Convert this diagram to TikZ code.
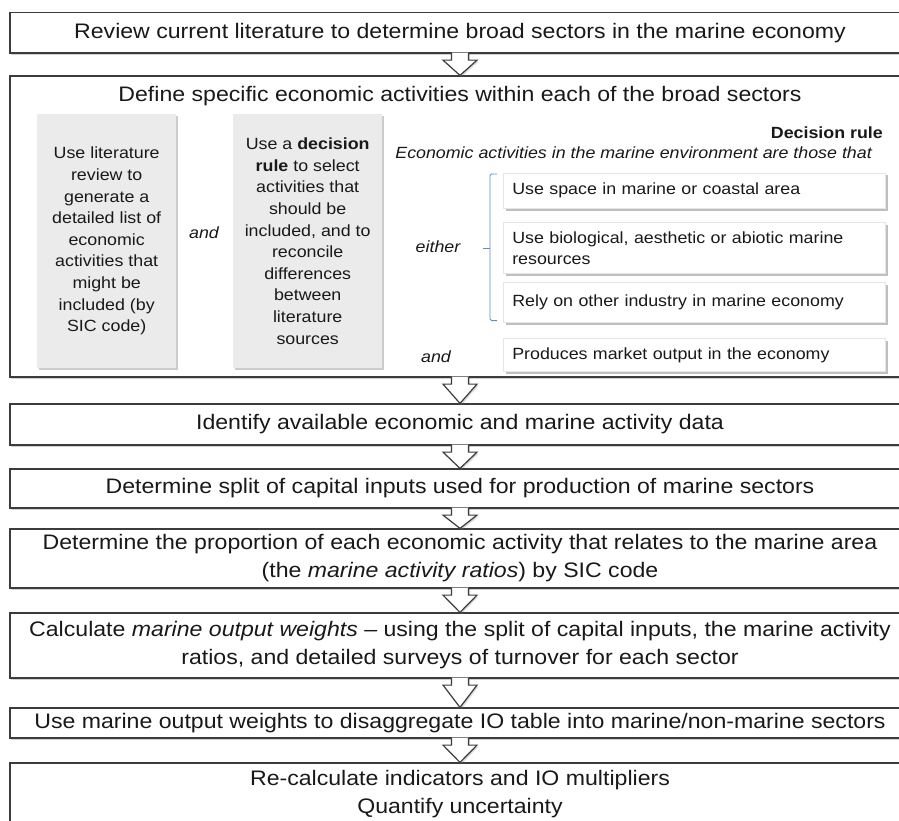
\documentclass[tikz,border=0pt]{standalone}
\usepackage{fontspec}
\setmainfont{Liberation Sans}[FakeStretch=1.1]
\usetikzlibrary{shadows,calc}
\definecolor{edgecol}{HTML}{3C3C3C}
\definecolor{greyfill}{HTML}{EBEBEB}
\definecolor{brackcol}{HTML}{5B8FCB}
\newcommand{\BigTxt}{\fontsize{21}{28}\selectfont}
\newcommand{\SmallTxt}{\fontsize{16.2}{21.6}\selectfont}
\tikzset{
  mainbox/.style={draw=edgecol, line width=1.2pt, fill=white, minimum width=900pt,
    inner sep=0pt, align=center, font=\BigTxt, text=black!90,
    drop shadow={shadow xshift=1pt, shadow yshift=-2.2pt, opacity=0.35}},
  greybox/.style={fill=greyfill, draw=none, inner sep=0pt, align=center, font=\SmallTxt,
    text=black!90, anchor=north west,
    drop shadow={shadow xshift=2pt, shadow yshift=-2pt, opacity=0.4}},
  rulebox/.style={draw=black!10, line width=0.6pt, fill=white, inner sep=9pt, align=left,
    font=\SmallTxt, text=black!90, anchor=north west, text width=364pt,
    drop shadow={shadow xshift=2.2pt, shadow yshift=-2.2pt, opacity=0.5}},
  label/.style={font=\SmallTxt\itshape, text=black!90, inner sep=0pt},
  arrfill/.style={fill=white, drop shadow={shadow xshift=1.5pt, shadow yshift=-1.5pt, opacity=0.3}},
  arrline/.style={draw=edgecol, line width=1.2pt, line join=miter},
}
\newcommand{\blockarrow}[2]{%
  \path[arrfill] let \p1=(#1.south), \p2=(#2.north) in
    (\x1-8.5,\y1+1) -- (\x1-8.5,\y1-6.5) -- (\x1-17,\y1-6.5) -- (\x2,\y2) --
    (\x1+17,\y1-6.5) -- (\x1+8.5,\y1-6.5) -- (\x1+8.5,\y1+1) -- cycle;
  \draw[arrline] let \p1=(#1.south), \p2=(#2.north) in
    (\x1-8.5,\y1+0.6) -- (\x1-8.5,\y1-6.5) -- (\x1-17,\y1-6.5) -- (\x2,\y2) --
    (\x1+17,\y1-6.5) -- (\x1+8.5,\y1-6.5) -- (\x1+8.5,\y1+0.6);
}
\begin{document}
\begin{tikzpicture}[x=1pt,y=-1pt]
\useasboundingbox (0,0) rectangle (899,821);
\clip (0,0) rectangle (899,821);
\fill[white] (0,0) rectangle (899,821);

% main boxes
\node[mainbox, minimum height=40.3pt] (b1) at (460,32.9)
  {Review current literature to determine broad sectors in the marine economy};
\node[mainbox, minimum height=301pt] (b2) at (460,226.5) {};
\node[mainbox, minimum height=41pt] (b3) at (460,424.5)
  {Identify available economic and marine activity data};
\node[mainbox, minimum height=39pt] (b4) at (460,488.5)
  {Determine split of capital inputs used for production of marine sectors};
\node[mainbox, minimum height=59pt] (b5) at (460,558.5)
  {Determine the proportion of each economic activity that relates to the marine area\\
   (the \textit{marine activity ratios}) by SIC code};
\node[mainbox, minimum height=65pt] (b6) at (460,645.5)
  {Calculate \textit{marine output weights} -- using the split of capital inputs, the marine activity\\
   ratios, and detailed surveys of turnover for each sector};
\node[mainbox, minimum height=30pt] (b7) at (460,723)
  {Use marine output weights to disaggregate IO table into marine/non-marine sectors};
\node[mainbox, minimum height=63pt] (b8) at (460,794.5)
  {Re-calculate indicators and IO multipliers\\ Quantify uncertainty};

% arrows
\blockarrow{b1}{b2}
\blockarrow{b2}{b3}
\blockarrow{b3}{b4}
\blockarrow{b4}{b5}
\blockarrow{b5}{b6}
\blockarrow{b6}{b7}
\blockarrow{b7}{b8}

% inside the define box
\node[font=\BigTxt, text=black!90, inner sep=0pt] (title) at (460,96)
  {Define specific economic activities within each of the broad sectors};

\node[greybox, minimum width=139pt, minimum height=254pt] (g1) at (37,114)
  {Use literature\\ review to\\ generate a\\ detailed list of\\ economic\\ activities that\\ might be\\ included (by\\ SIC code)};
\node[greybox, minimum width=149pt, minimum height=254pt] (g2) at (233,114)
  {Use a \textbf{decision}\\ \textbf{rule} to select\\ activities that\\ should be\\ included, and to\\ reconcile\\ differences\\ between\\ literature\\ sources};
\node[label] (and1) at (204,233) {and};

\node[font=\SmallTxt\bfseries, text=black!90, inner sep=0pt, anchor=east] (drule) at (883,133) {Decision rule};
\node[label, anchor=east] (econ) at (872,153) {Economic activities in the marine environment are those that};

\node[rulebox, minimum height=35pt] (ra) at (503,173) {Use space in marine or coastal area};
\node[rulebox, minimum height=50pt] (rb) at (503,222) {Use biological, aesthetic or abiotic marine\\ resources};
\node[rulebox, minimum height=40pt] (rc) at (503,282) {Rely on other industry in marine economy};
\node[rulebox, minimum height=33pt] (rd) at (503,338) {Produces market output in the economy};

\node[label] (either) at (438,247) {either};
\node[label] (and2) at (436,357) {and};

% bracket
\draw[brackcol, line width=0.9pt, rounded corners=1.5pt]
  ($(ra.north west)+(-6,1)$) -- ($(ra.north west)+(-13,1)$) |- ($(rc.south west)+(-6,-2)$);
\draw[brackcol, line width=0.9pt] ($(rb.west)+(-13,0)$) -- ($(rb.west)+(-20,0)$);
\end{tikzpicture}
\end{document}
